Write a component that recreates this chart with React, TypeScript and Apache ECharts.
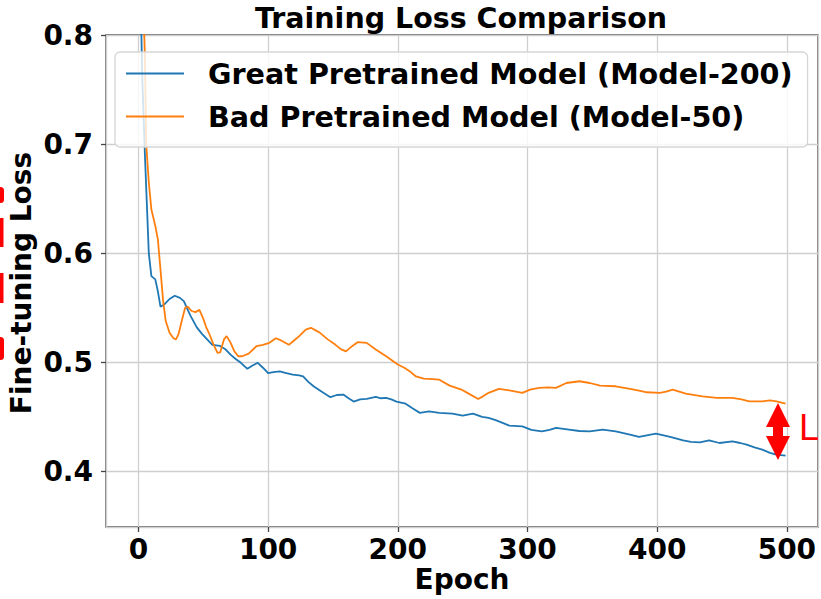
import React, { useEffect, useRef } from "react";
import * as echarts from "echarts";

const epochsGreat = [0, 3, 5, 8, 10, 13, 15, 17, 20, 24, 28, 32, 35, 40, 45, 49, 53, 57, 63, 67, 71, 75, 79, 84, 88, 92, 96, 100, 104, 109, 114, 119, 124, 127, 131, 135, 142, 148, 153, 158, 162, 166, 171, 176, 183, 187, 191, 195, 199, 206, 211, 217, 224, 232, 242, 250, 258, 265, 270, 276, 286, 296, 303, 311, 317, 322, 332, 340, 348, 358, 368, 379, 386, 392, 399, 405, 410, 420, 426, 433, 440, 448, 458, 464, 469, 475, 481, 487, 492, 499];
const lossGreat = [0.93, 0.76, 0.69, 0.6, 0.579, 0.576, 0.565, 0.551, 0.553, 0.558, 0.561, 0.559, 0.556, 0.543, 0.532, 0.526, 0.521, 0.516, 0.515, 0.512, 0.507, 0.503, 0.4995, 0.494, 0.497, 0.4995, 0.495, 0.49, 0.491, 0.4917, 0.49, 0.4887, 0.488, 0.487, 0.482, 0.478, 0.4725, 0.468, 0.47, 0.4704, 0.467, 0.464, 0.466, 0.4664, 0.4683, 0.467, 0.4673, 0.466, 0.464, 0.462, 0.458, 0.4536, 0.455, 0.4536, 0.453, 0.451, 0.453, 0.45, 0.449, 0.4468, 0.442, 0.4413, 0.438, 0.4367, 0.438, 0.4398, 0.4383, 0.437, 0.4367, 0.4383, 0.4367, 0.4337, 0.4316, 0.433, 0.4346, 0.433, 0.4316, 0.4284, 0.427, 0.4266, 0.4284, 0.426, 0.4275, 0.426, 0.4245, 0.422, 0.42, 0.417, 0.4153, 0.4144];

const epochsBad = [0, 3, 5, 6, 8, 10, 13, 15, 17, 19, 21, 24, 27, 29, 31, 33, 36, 38, 41, 44, 47, 50, 52, 55, 58, 61, 63, 66, 68, 71, 74, 77, 80, 85, 91, 96, 101, 106, 110, 116, 120, 124, 129, 133, 137, 140, 146, 152, 156, 160, 165, 169, 176, 183, 191, 200, 205, 210, 214, 220, 224, 232, 240, 249, 255, 262, 266, 270, 278, 286, 296, 302, 309, 316, 322, 330, 340, 348, 356, 368, 379, 386, 392, 402, 407, 412, 422, 435, 446, 458, 465, 471, 481, 487, 492, 499];
const lossBad = [0.98, 0.86, 0.78, 0.7, 0.665, 0.64, 0.625, 0.6126, 0.585, 0.557, 0.538, 0.527, 0.522, 0.521, 0.526, 0.536, 0.55, 0.551, 0.547, 0.546, 0.548, 0.54, 0.533, 0.525, 0.516, 0.5086, 0.509, 0.521, 0.524, 0.518, 0.51, 0.5055, 0.5055, 0.508, 0.5147, 0.516, 0.5178, 0.522, 0.52, 0.516, 0.52, 0.524, 0.53, 0.5316, 0.529, 0.527, 0.521, 0.516, 0.512, 0.51, 0.515, 0.5184, 0.5178, 0.5117, 0.5055, 0.498, 0.495, 0.491, 0.487, 0.485, 0.4848, 0.484, 0.4786, 0.475, 0.471, 0.4664, 0.469, 0.472, 0.4756, 0.4743, 0.472, 0.475, 0.4765, 0.477, 0.4765, 0.481, 0.4826, 0.481, 0.4786, 0.478, 0.4756, 0.474, 0.4725, 0.472, 0.473, 0.475, 0.4713, 0.4688, 0.4673, 0.4673, 0.466, 0.4642, 0.4642, 0.465, 0.4642, 0.462];

const seriesNames = ["Great Pretrained Model (Model-200)", "Bad Pretrained Model (Model-50)"];
const titleText = "Training Loss Comparison";
const xLabel = "Epoch";
const yLabel = "Fine-tuning Loss";

const FONT = "DejaVu Sans";

export default function App() {
  const ref = useRef<HTMLDivElement>(null);
  useEffect(() => {
    if (!ref.current) return;
    const chart = echarts.init(ref.current, null, { renderer: "svg" });
    const axisText = { fontFamily: FONT, fontWeight: "bold" as const, fontSize: 28, color: "#000" };
    chart.setOption({
      animation: false,
      backgroundColor: "#fff",
      grid: { left: 106, top: 35, right: 3, bottom: 72, show: true, borderColor: "#444", borderWidth: 1.3, outerBoundsMode: "none" },
      xAxis: {
        type: "value",
        position: "bottom",
        min: -25,
        max: 524,
        axisLine: { show: false, onZero: false },
        axisTick: { show: true, inside: false, length: 5, lineStyle: { color: "#444", width: 1.3 } },
        axisLabel: { ...axisText, margin: 8, showMinLabel: false, showMaxLabel: false },
        splitLine: { show: true, lineStyle: { color: "#cfcfcf", width: 1.3 } },
      },
      yAxis: {
        type: "value",
        position: "left",
        min: 0.349,
        max: 0.8,
        axisLine: { show: false, onZero: false },
        axisTick: { show: true, inside: false, length: 5, lineStyle: { color: "#444", width: 1.3 } },
        axisLabel: { ...axisText, margin: 13, showMinLabel: false, showMaxLabel: true, formatter: (v: number) => v.toFixed(1) },
        splitLine: { show: true, lineStyle: { color: "#cfcfcf", width: 1.3 } },
      },
      legend: {
        orient: "vertical",
        left: 115,
        top: 52,
        padding: [7, 15, 16, 11],
        itemWidth: 58,
        itemHeight: 2,
        itemGap: 14,
        icon: "rect",
        backgroundColor: "rgba(255,255,255,0.8)",
        borderColor: "#d6d6d6",
        borderWidth: 1.3,
        borderRadius: 5,
        textStyle: { fontFamily: FONT, fontWeight: "bold", fontSize: 28.6, color: "#000", lineHeight: 28, padding: [0, 0, 0, 19] },
        data: seriesNames,
      },
      series: [
        {
          name: seriesNames[0],
          type: "line",
          symbol: "none",
          clip: true,
          color: "#1f77b4",
          lineStyle: { width: 1.8, color: "#1f77b4" },
          data: epochsGreat.map((e, i) => [e, lossGreat[i]]),
        },
        {
          name: seriesNames[1],
          type: "line",
          symbol: "none",
          clip: true,
          color: "#ff7f0e",
          lineStyle: { width: 1.8, color: "#ff7f0e" },
          data: epochsBad.map((e, i) => [e, lossBad[i]]),
        },
      ],
      graphic: [
        { type: "text", x: 461, y: 18, style: { text: titleText, fontFamily: FONT, fontWeight: "bold", fontSize: 28.5, fill: "#000", textAlign: "center", textVerticalAlign: "middle" } },
        { type: "text", x: 462, y: 579, style: { text: xLabel, fontFamily: FONT, fontWeight: "bold", fontSize: 28, fill: "#000", textAlign: "center", textVerticalAlign: "middle" } },
        { type: "text", x: 21, y: 283, rotation: Math.PI / 2, style: { text: yLabel, fontFamily: FONT, fontWeight: "bold", fontSize: 28, fill: "#000", textAlign: "center", textVerticalAlign: "middle" } },
        {
          type: "polygon",
          z: 100,
          shape: { points: [[778, 403], [790, 427], [783, 427], [783, 436], [790, 436], [778, 460], [766, 436], [773, 436], [773, 427], [766, 427]] },
          style: { fill: "#ff0000" },
        },
        { type: "text", x: 799, y: 427, z: 100, style: { text: "L", fontFamily: "Liberation Sans", fontSize: 36, fill: "#ff0000", textAlign: "left", textVerticalAlign: "middle" } },
        { type: "rect", shape: { x: -3, y: 187, width: 7, height: 16, r: 4 }, style: { fill: "#ff0000" } },
        { type: "rect", shape: { x: 0, y: 218, width: 3.5, height: 29 }, style: { fill: "#ff0000" } },
        { type: "rect", shape: { x: 0, y: 273, width: 3.5, height: 30 }, style: { fill: "#ff0000" } },
        { type: "rect", shape: { x: -3, y: 337, width: 7, height: 23, r: 4 }, style: { fill: "#ff0000" } },
      ],
    });
    return () => chart.dispose();
  }, []);
  return <div ref={ref} style={{ position: "fixed", left: 0, top: 0, width: 821, height: 599 }} />;
}
